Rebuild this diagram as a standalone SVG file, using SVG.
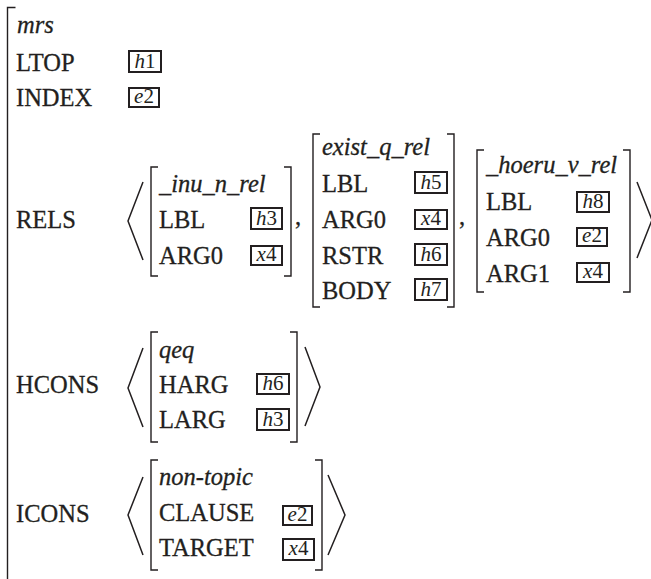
<svg xmlns="http://www.w3.org/2000/svg" width="651" height="579" viewBox="0 0 651 579">
<style>
.t{font-size:24.5px;fill:#231f20;stroke:#231f20;stroke-width:0.3}
.i{font-style:italic}
.v{font-size:21px;fill:#231f20;text-anchor:middle}
.b{fill:none;stroke:#231f20;stroke-width:1.4}
.a{fill:none;stroke:#231f20;stroke-width:1.5;stroke-linejoin:miter}
.x{fill:none;stroke:#231f20;stroke-width:2}
</style>
<rect width="651" height="579" fill="#ffffff"/>
<g font-family="Liberation Serif, Times New Roman, serif">
<g id="outer">
<path class="b" d="M15.5,7.5 H7.5 V580"/>
<text class="t i" x="17" y="33">mrs</text>
<text class="t" x="16" y="71">LTOP</text>
<rect class="x" x="129" y="51" width="32" height="21"/>
<text class="v" x="145" y="68"><tspan font-style="italic">h</tspan>1</text>
<text class="t" x="16" y="106">INDEX</text>
<rect class="x" x="129" y="88" width="30" height="19"/>
<text class="v" x="144" y="103"><tspan font-style="italic">e</tspan>2</text>
</g>
<g id="rels">
<text class="t" x="16" y="228">RELS</text>
<polyline class="a" points="143,182 128,221 143,260"/>
<g id="inu">
<path class="b" d="M158,167 H151 V276 H158"/>
<path class="b" d="M284,167 H291 V276 H284"/>
<text class="t i" x="159" y="192">_inu_n_rel</text>
<text class="t" x="159" y="228">LBL</text>
<rect class="x" x="251" y="208" width="31" height="21"/>
<text class="v" x="266.5" y="225"><tspan font-style="italic">h</tspan>3</text>
<text class="t" x="159" y="264">ARG0</text>
<rect class="x" x="251" y="246" width="31" height="19"/>
<text class="v" x="266.5" y="261"><tspan font-style="italic">x</tspan>4</text>
</g>
<text class="t" x="295" y="225">,</text>
<g id="exist">
<path class="b" d="M320,134 H313 V307 H320"/>
<path class="b" d="M447,134 H454 V307 H447"/>
<text class="t i" x="322" y="155">exist_q_rel</text>
<text class="t" x="322" y="192">LBL</text>
<rect class="x" x="415" y="172" width="32" height="21"/>
<text class="v" x="431" y="189"><tspan font-style="italic">h</tspan>5</text>
<text class="t" x="322" y="228">ARG0</text>
<rect class="x" x="415" y="210" width="32" height="19"/>
<text class="v" x="431" y="225"><tspan font-style="italic">x</tspan>4</text>
<text class="t" x="322" y="264">RSTR</text>
<rect class="x" x="415" y="244" width="32" height="21"/>
<text class="v" x="431" y="261"><tspan font-style="italic">h</tspan>6</text>
<text class="t" x="322" y="299">BODY</text>
<rect class="x" x="415" y="279" width="32" height="21"/>
<text class="v" x="431" y="296"><tspan font-style="italic">h</tspan>7</text>
</g>
<text class="t" x="459" y="225">,</text>
<g id="hoeru">
<path class="b" d="M484,150 H477 V292 H484"/>
<path class="b" d="M623,150 H630 V292 H623"/>
<text class="t i" x="486" y="173">_hoeru_v_rel</text>
<text class="t" x="486" y="210">LBL</text>
<rect class="x" x="577" y="192" width="32" height="20"/>
<text class="v" x="593" y="208"><tspan font-style="italic">h</tspan>8</text>
<text class="t" x="486" y="246">ARG0</text>
<rect class="x" x="577" y="228" width="30" height="18"/>
<text class="v" x="592" y="242"><tspan font-style="italic">e</tspan>2</text>
<text class="t" x="486" y="282">ARG1</text>
<rect class="x" x="577" y="263" width="32" height="19"/>
<text class="v" x="593" y="278"><tspan font-style="italic">x</tspan>4</text>
</g>
<polyline class="a" points="637,182 652,220 637,258"/>
</g>
<g id="hcons">
<text class="t" x="16" y="393">HCONS</text>
<polyline class="a" points="143,348 128,388 143,427"/>
<path class="b" d="M158,332 H151 V442 H158"/>
<path class="b" d="M290,332 H297 V442 H290"/>
<text class="t i" x="159" y="358">qeq</text>
<text class="t" x="159" y="393">HARG</text>
<rect class="x" x="257" y="374" width="32" height="20"/>
<text class="v" x="273" y="390"><tspan font-style="italic">h</tspan>6</text>
<text class="t" x="159" y="428">LARG</text>
<rect class="x" x="257" y="409" width="32" height="21"/>
<text class="v" x="273" y="426"><tspan font-style="italic">h</tspan>3</text>
<polyline class="a" points="305,347 320,387 305,426"/>
</g>
<g id="icons">
<text class="t" x="16" y="522">ICONS</text>
<polyline class="a" points="143,477 128,515 143,555"/>
<path class="b" d="M158,460 H151 V570 H158"/>
<path class="b" d="M315,460 H322 V570 H315"/>
<text class="t i" x="159" y="485">non-topic</text>
<text class="t" x="159" y="521">CLAUSE</text>
<rect class="x" x="283" y="506" width="29" height="19"/>
<text class="v" x="297.5" y="521"><tspan font-style="italic">e</tspan>2</text>
<text class="t" x="159" y="556">TARGET</text>
<rect class="x" x="283" y="539" width="31" height="21"/>
<text class="v" x="298.5" y="555"><tspan font-style="italic">x</tspan>4</text>
<polyline class="a" points="328,475 345,515 328,555"/>
</g>
</g>
</svg>
